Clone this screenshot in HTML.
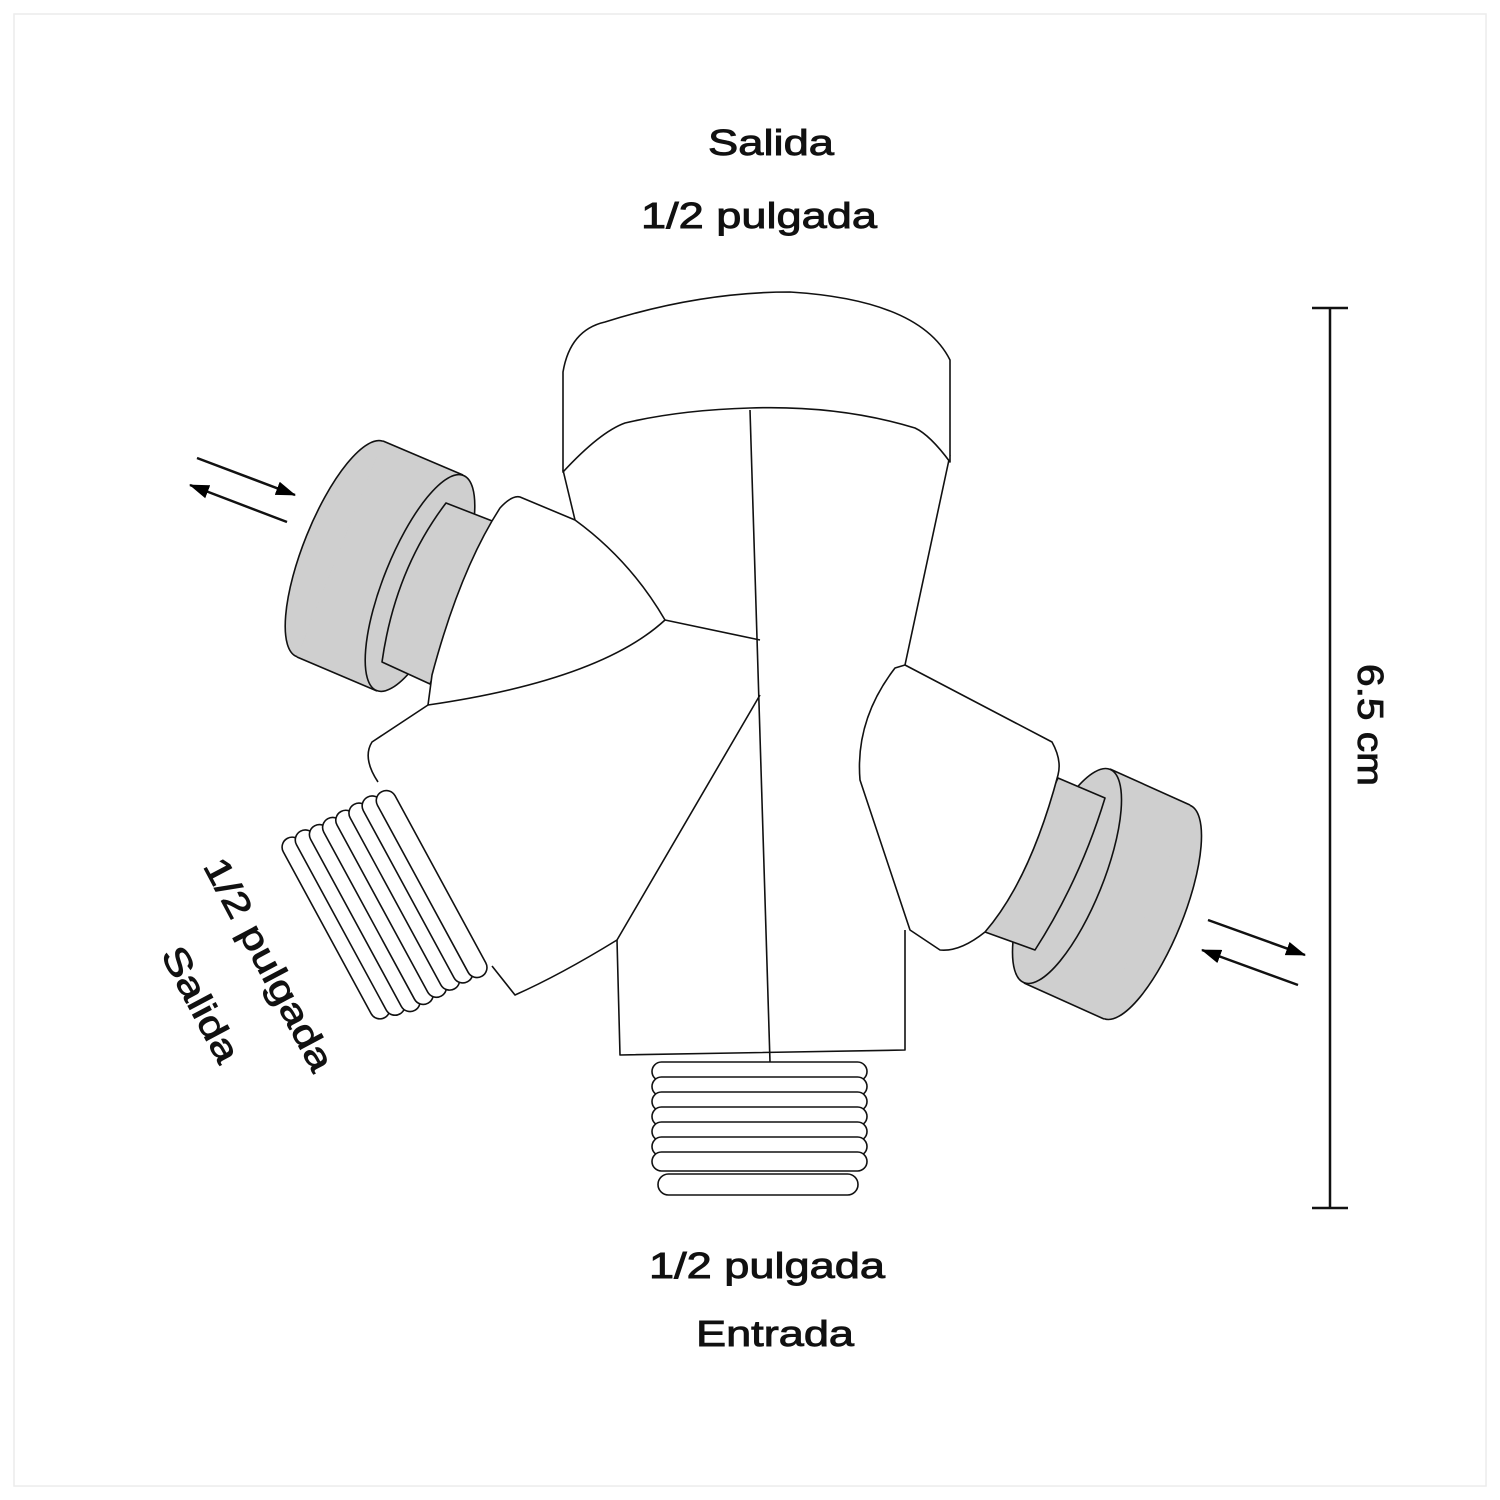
<!DOCTYPE html>
<html><head><style>html,body{margin:0;padding:0;background:#fff}svg{display:block}</style></head><body>
<svg width="1500" height="1500" viewBox="0 0 1500 1500" xmlns="http://www.w3.org/2000/svg">
<rect x="0" y="0" width="1500" height="1500" fill="#fff"/>
<rect x="14" y="14" width="1472" height="1472" fill="none" stroke="#ececec" stroke-width="1.5"/>
<defs>
<marker id="ah" markerWidth="20" markerHeight="14" refX="19" refY="7" orient="auto" markerUnits="userSpaceOnUse" viewBox="0 0 20 14"><path d="M0,0 L20,7 L0,14 z" fill="#000"/></marker>
</defs>
<g font-family="Liberation Sans, sans-serif" font-size="36" fill="#111" stroke="#111" stroke-width="0.9" text-anchor="middle">
<text x="771" y="155" textLength="126" lengthAdjust="spacingAndGlyphs">Salida</text>
<text x="759" y="228" textLength="236" lengthAdjust="spacingAndGlyphs">1/2 pulgada</text>
<text x="767" y="1278" textLength="236" lengthAdjust="spacingAndGlyphs">1/2 pulgada</text>
<text x="775" y="1346" textLength="158" lengthAdjust="spacingAndGlyphs">Entrada</text>
<text transform="translate(1358,725) rotate(90)" textLength="122" lengthAdjust="spacingAndGlyphs">6.5 cm</text>
<text transform="translate(258,970) rotate(62)" textLength="236" lengthAdjust="spacingAndGlyphs">1/2 pulgada</text>
<text transform="translate(190,1010) rotate(62)" textLength="126" lengthAdjust="spacingAndGlyphs">Salida</text>
</g>
<g stroke="#111" stroke-width="2.5" fill="none">
<line x1="1330" y1="308" x2="1330" y2="1208"/>
<line x1="1312" y1="308" x2="1348" y2="308"/>
<line x1="1312" y1="1208" x2="1348" y2="1208"/>
<line x1="197" y1="458" x2="295" y2="495" marker-end="url(#ah)"/>
<line x1="287" y1="522" x2="190" y2="485" marker-end="url(#ah)"/>
<line x1="1208" y1="920" x2="1305" y2="955" marker-end="url(#ah)"/>
<line x1="1298" y1="985" x2="1202" y2="950" marker-end="url(#ah)"/>
</g>
<g stroke="#111" stroke-width="1.6" stroke-linejoin="round">
<g fill="#cfcfcf">
<ellipse cx="0" cy="0" rx="36" ry="116" transform="translate(340,549) rotate(22)"/>
<path d="M383,441 L463,475 L377,691 L297,657 Z" stroke="none"/>
<line x1="383" y1="441" x2="463" y2="475"/>
<line x1="297" y1="657" x2="377" y2="691"/>
<ellipse cx="0" cy="0" rx="36" ry="116" transform="translate(420,583) rotate(22)"/>
<path d="M446,503 L500,524 L430,684 L382,662 Q395,570 446,503 Z"/>
</g>
<g fill="#cfcfcf">
<ellipse cx="0" cy="0" rx="36" ry="115" transform="translate(1147,912) rotate(22)"/>
<path d="M1110,769 L1190,805 L1104,1019 L1024,983 Z" stroke="none"/>
<line x1="1110" y1="769" x2="1190" y2="805"/>
<line x1="1024" y1="983" x2="1104" y2="1019"/>
<ellipse cx="0" cy="0" rx="36" ry="115" transform="translate(1067,876) rotate(22)"/>
<path d="M1058,778 L1105,798 Q1080,880 1035,950 L985,932 Z"/>
</g>
<g fill="#fff">
<rect x="652" y="1062" width="215" height="19" rx="9.5"/>
<rect x="652" y="1077" width="215" height="19" rx="9.5"/>
<rect x="652" y="1092" width="215" height="19" rx="9.5"/>
<rect x="652" y="1107" width="215" height="19" rx="9.5"/>
<rect x="652" y="1122" width="215" height="19" rx="9.5"/>
<rect x="652" y="1137" width="215" height="19" rx="9.5"/>
<rect x="652" y="1152" width="215" height="19" rx="9.5"/>
<rect x="658" y="1174" width="200" height="21" rx="10.5"/>
</g>
<path d="M563,470 L575,520 L665,620 L760,695 L617,940 L620,1055 L905,1050 L905,930 L860,780 Q855,720 895,668 L905,665 L950,455 Z" fill="#fff" stroke="none"/>
<path d="M428,705 L372,742 Q362,758 380,782 L390,790 L490,958 L492,966 L515,995 Q560,975 617,940 L760,695 L665,620 Q580,690 428,705 Z" fill="#fff" stroke="none"/>
<path d="M905,665 L1052,742 Q1062,760 1058,775 Q1030,880 985,932 Q960,952 940,950 L910,930 L860,780 Q855,720 895,668 Z" fill="#fff" stroke="none"/>
<path d="M520,497 L575,520 Q630,560 665,620 Q600,680 428,705 L432,675 Q460,570 500,508 Z" fill="#fff" stroke="none"/>
<g transform="translate(336,928) rotate(61.5)" fill="#fff">
<rect x="-102" y="-10" width="204" height="20" rx="10"/>
<rect x="-102" y="-25" width="208" height="20" rx="10"/>
<rect x="-100" y="-40" width="210" height="20" rx="10"/>
<rect x="-100" y="-55" width="210" height="20" rx="10"/>
<rect x="-100" y="-70" width="210" height="20" rx="10"/>
<rect x="-100" y="-85" width="210" height="20" rx="10"/>
<rect x="-100" y="-100" width="210" height="20" rx="10"/>
<rect x="-98" y="-115" width="210" height="20" rx="10"/>
</g>
<g fill="none">
<path d="M563,470 L575,520"/>
<path d="M950,455 L905,665"/>
<path d="M617,940 L620,1055 L905,1050 L905,930"/>
<path d="M428,705 L372,742 Q362,758 378,782"/>
<path d="M492,966 L515,995 Q560,975 617,940 L760,695"/>
<path d="M575,520 Q630,560 665,620 Q600,680 428,705 L432,675 Q460,570 500,508 Q512,495 520,497 L575,520"/>
<path d="M905,665 L1052,742 Q1062,760 1058,775 Q1030,880 985,932 Q960,952 940,950 L910,930 L860,780 Q855,720 895,668 Z"/>
<path d="M563,470 L563,372 Q570,330 605,322 Q700,292 790,292 Q920,300 950,360 L950,462 Q930,435 915,428 Q840,405 750,408 Q680,410 625,423 Q600,432 563,472 Z" fill="#fff"/>
<line x1="750" y1="410" x2="770" y2="1062"/>
<line x1="665" y1="620" x2="760" y2="640"/>
</g>
</g>
</svg>
</body></html>
